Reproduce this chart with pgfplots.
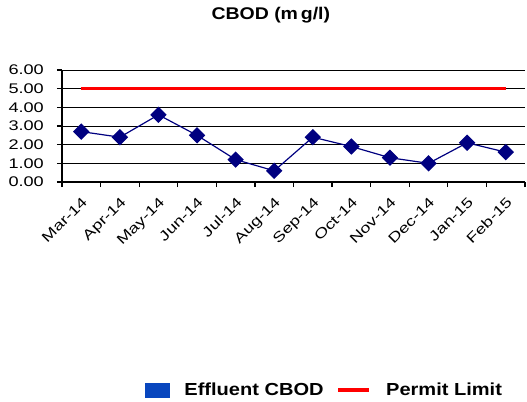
\documentclass[border=0pt]{standalone}
\usepackage{fontspec}
\setmainfont{Liberation Sans}[FakeStretch=1.15]
\newfontfamily\tickfont{Liberation Sans}[FakeStretch=1.3]
\usepackage{pgfplots}
\pgfplotsset{compat=1.18}
\definecolor{navy}{RGB}{0,0,128}
\definecolor{legblue}{RGB}{8,70,190}
\begin{document}
\begin{tikzpicture}
\path[use as bounding box] (0,0) rectangle (527bp,402bp);
\begin{axis}[
  at={(62bp,220bp)}, anchor=south west,
  scale only axis, width=463bp, height=112bp,
  xmin=-0.5, xmax=11.5, ymin=0, ymax=6,
  axis x line*=bottom, axis y line*=left,
  axis line style={black, line width=1.2pt},
  xtick={0,...,11},
  xticklabels={Mar-14,Apr-14,May-14,Jun-14,Jul-14,Aug-14,Sep-14,Oct-14,Nov-14,Dec-14,Jan-15,Feb-15},
  major x tick style={draw=none},
  minor xtick={-0.5,0.5,...,11.5},
  minor tick length=5bp,
  minor x tick style={black, line width=1.2pt},
  ytick={0,1,...,6},
  tick align=outside,
  major tick length=5bp,
  major y tick style={black, line width=1.2pt},
  ymajorgrids,
  grid style={black, line width=1pt},
  /pgf/number format/assume math mode=true,
  yticklabel style={/pgf/number format/fixed, /pgf/number format/fixed zerofill, /pgf/number format/precision=2},
  yticklabel style={font=\tickfont\fontsize{14}{14}\selectfont, inner sep=0pt, xshift=-13bp},
  xticklabel style={font=\tickfont\fontsize{14}{14}\selectfont, xshift=0bp, yshift=-9bp, rotate=45, anchor=north east, inner sep=0pt},
  title={\textbf{CBOD (m\,g/l)}},
  title style={font=\fontsize{17}{17}\selectfont, at={(axis description cs:0.451,1.49)}, anchor=center, yshift=-6pt},
  legend columns=2,
  legend style={draw=none, at={(0.567,-1.857)}, anchor=center, font=\fontsize{17.5}{17.5}\selectfont\bfseries,
    /tikz/every even column/.append style={column sep=11bp},
    /tikz/every odd column/.append style={column sep=13bp},
    /tikz/column 3/.append style={column sep=8bp}},
  legend cell align=left,
  clip=false,
]
\addplot[navy, line width=1.2pt, mark=square*, mark size=5.2bp, mark options={rotate=45, fill=navy, draw=navy}, forget plot]
  coordinates {(0,2.7)(1,2.4)(2,3.6)(3,2.5)(4,1.2)(5,0.6)(6,2.4)(7,1.9)(8,1.3)(9,1.0)(10,2.1)(11,1.6)};
\addplot[red, line width=3pt, forget plot] coordinates {(0,5)(11,5)};
\addlegendimage{legend image code/.code={\fill[legblue] (0bp,-7bp) rectangle (24bp,7bp);}}
\addlegendimage{legend image code/.code={\draw[red, line width=3.5pt] (0bp,0bp) -- (31bp,0bp);}}
\legend{Effluent CBOD,Permit Limit}
\end{axis}
\end{tikzpicture}
\end{document}
